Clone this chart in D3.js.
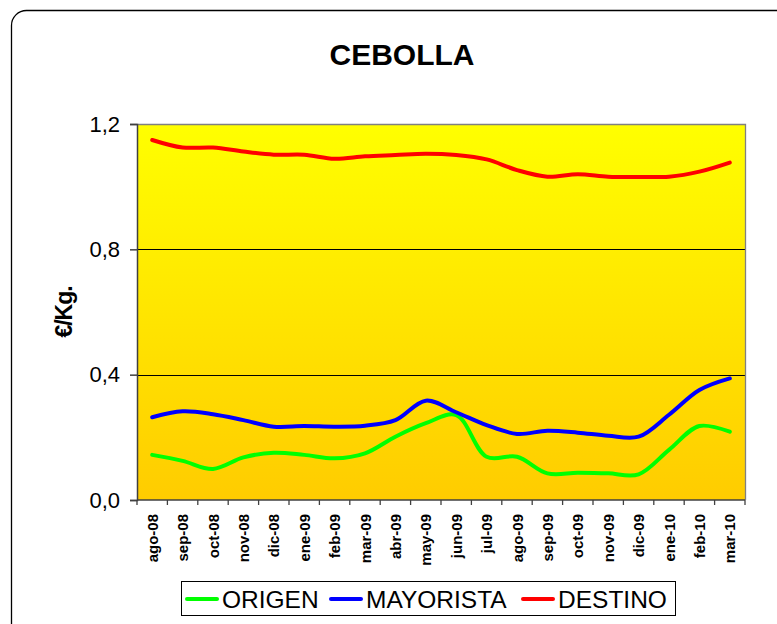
<!DOCTYPE html>
<html>
<head>
<meta charset="utf-8">
<script src="https://cdn.jsdelivr.net/npm/d3@7/dist/d3.min.js"></script>
<style>
  html, body { margin: 0; padding: 0; background: #fff; }
  svg { display: block; font-family: Arial, "Liberation Sans", sans-serif; }
</style>
</head>
<body>
<svg id="chart" width="777" height="624"></svg>
<script>
// Monthly onion prices (€/Kg.) at three points of the supply chain
const months = ["ago-08","sep-08","oct-08","nov-08","dic-08","ene-09","feb-09","mar-09","abr-09","may-09",
                "jun-09","jul-09","ago-09","sep-09","oct-09","nov-09","dic-09","ene-10","feb-10","mar-10"];
const origen     = [0.144,0.125,0.099,0.136,0.151,0.144,0.133,0.149,0.202,0.245,
                    0.271,0.138,0.138,0.085,0.087,0.085,0.082,0.160,0.236,0.218];
const mayorista  = [0.264,0.283,0.274,0.255,0.234,0.236,0.234,0.237,0.255,0.317,
                    0.280,0.239,0.211,0.221,0.215,0.205,0.202,0.272,0.351,0.388];
const destino    = [1.149,1.125,1.125,1.112,1.102,1.102,1.089,1.097,1.101,1.105,
                    1.101,1.087,1.053,1.032,1.040,1.032,1.031,1.032,1.048,1.077];
const yTicks = [0, 0.4, 0.8, 1.2];
const seriesNames = ["ORIGEN", "MAYORISTA", "DESTINO"];
const seriesColors = ["#00ff00", "#0000ff", "#ff0000"];
const seriesValues = [origen, mayorista, destino];

const svg = d3.select("#chart");

// outer frame with rounded corners
svg.append("rect")
  .attr("x", 11.5).attr("y", 10.5)
  .attr("width", 790).attr("height", 640)
  .attr("rx", 15).attr("ry", 15)
  .attr("fill", "#fff").attr("stroke", "#000").attr("stroke-width", 1.3);

const plot = { left: 137, top: 124, right: 745, bottom: 500 };

const x = d3.scaleBand().domain(months).range([plot.left, plot.right]);
const y = d3.scaleLinear().domain([0, 1.2]).range([plot.bottom, plot.top]);

// background gradient
const defs = svg.append("defs");
const grad = defs.append("linearGradient").attr("id", "bg")
  .attr("x1", 0).attr("y1", 0).attr("x2", 0).attr("y2", 1);
grad.append("stop").attr("offset", "0%").attr("stop-color", "#ffff00");
grad.append("stop").attr("offset", "100%").attr("stop-color", "#ffcc00");

svg.append("rect")
  .attr("x", plot.left).attr("y", plot.top)
  .attr("width", plot.right - plot.left).attr("height", plot.bottom - plot.top)
  .attr("fill", "url(#bg)");

// gridlines
svg.append("g").selectAll("line")
  .data(yTicks.filter(t => t > 0 && t < 1.2))
  .join("line")
  .attr("x1", plot.left).attr("x2", plot.right)
  .attr("y1", d => Math.round(y(d)) + 0.5).attr("y2", d => Math.round(y(d)) + 0.5)
  .attr("stroke", "#000").attr("stroke-width", 1);

// plot border (top and right)
svg.append("path")
  .attr("d", `M${plot.left},${plot.top + 0.5}H${plot.right + 0.5}V${plot.bottom}`)
  .attr("fill", "none").attr("stroke", "#808080").attr("stroke-width", 1.3);

// y axis
const yAxis = svg.append("g")
  .attr("transform", `translate(${plot.left},0)`)
  .call(d3.axisLeft(y).tickValues(yTicks).tickSize(7).tickPadding(10)
    .tickFormat(d => d3.format(".1f")(d).replace(".", ",")));
yAxis.selectAll("path, line").attr("stroke", "#404040").attr("stroke-width", 1.5);
yAxis.selectAll("text").attr("font-size", 22).attr("fill", "#000")
  .attr("font-family", "Arial, 'Liberation Sans', sans-serif");

// x axis: ticks at category boundaries
const xAxisG = svg.append("g").attr("transform", `translate(0,${plot.bottom})`);
xAxisG.append("line")
  .attr("x1", plot.left).attr("x2", plot.right)
  .attr("stroke", "#404040").attr("stroke-width", 1.5);
const bounds = months.map(m => x(m)).concat([plot.right]);
xAxisG.selectAll("line.tick")
  .data(bounds)
  .join("line").attr("class", "tick")
  .attr("x1", d => d).attr("x2", d => d)
  .attr("y1", 0).attr("y2", 5)
  .attr("stroke", "#404040").attr("stroke-width", 1.3);
xAxisG.selectAll("text")
  .data(months)
  .join("text")
  .attr("transform", d => `translate(${x(d) + x.bandwidth() / 2 + 5.5},14) rotate(-90)`)
  .attr("text-anchor", "end")
  .attr("font-size", 15).attr("font-weight", "bold")
  .text(d => d);

// lines
const line = d3.line()
  .x((d, i) => x(months[i]) + x.bandwidth() / 2)
  .y(d => y(d))
  .curve(d3.curveCatmullRom.alpha(0.5));

svg.append("g").selectAll("path")
  .data(seriesValues)
  .join("path")
  .attr("d", d => line(d))
  .attr("fill", "none")
  .attr("stroke", (d, i) => seriesColors[i])
  .attr("stroke-width", 4)
  .attr("stroke-linecap", "round")
  .attr("stroke-linejoin", "round");

// title
svg.append("text")
  .attr("x", 402).attr("y", 65)
  .attr("text-anchor", "middle")
  .attr("font-size", 30).attr("font-weight", "bold")
  .text("CEBOLLA");

// y axis title
svg.append("text")
  .attr("transform", "translate(72,312) rotate(-90)")
  .attr("text-anchor", "middle")
  .attr("font-size", 23).attr("font-weight", "bold")
  .attr("letter-spacing", -1)
  .text("€/Kg.");

// legend
const legend = svg.append("g");
legend.append("rect")
  .attr("x", 181.5).attr("y", 581.5).attr("width", 494).attr("height", 34)
  .attr("fill", "#fff").attr("stroke", "#000").attr("stroke-width", 1);
const legendX = [187, 331, 523];
const items = legend.selectAll("g.item")
  .data(seriesNames)
  .join("g").attr("class", "item")
  .attr("transform", (d, i) => `translate(${legendX[i]},0)`);
items.append("line")
  .attr("x1", 0).attr("x2", 30).attr("y1", 599).attr("y2", 599)
  .attr("stroke", (d, i) => seriesColors[i]).attr("stroke-width", 4)
  .attr("stroke-linecap", "round");
items.append("text")
  .attr("x", 35).attr("y", 608)
  .attr("font-size", 24.5)
  .text(d => d);
</script>
</body>
</html>
